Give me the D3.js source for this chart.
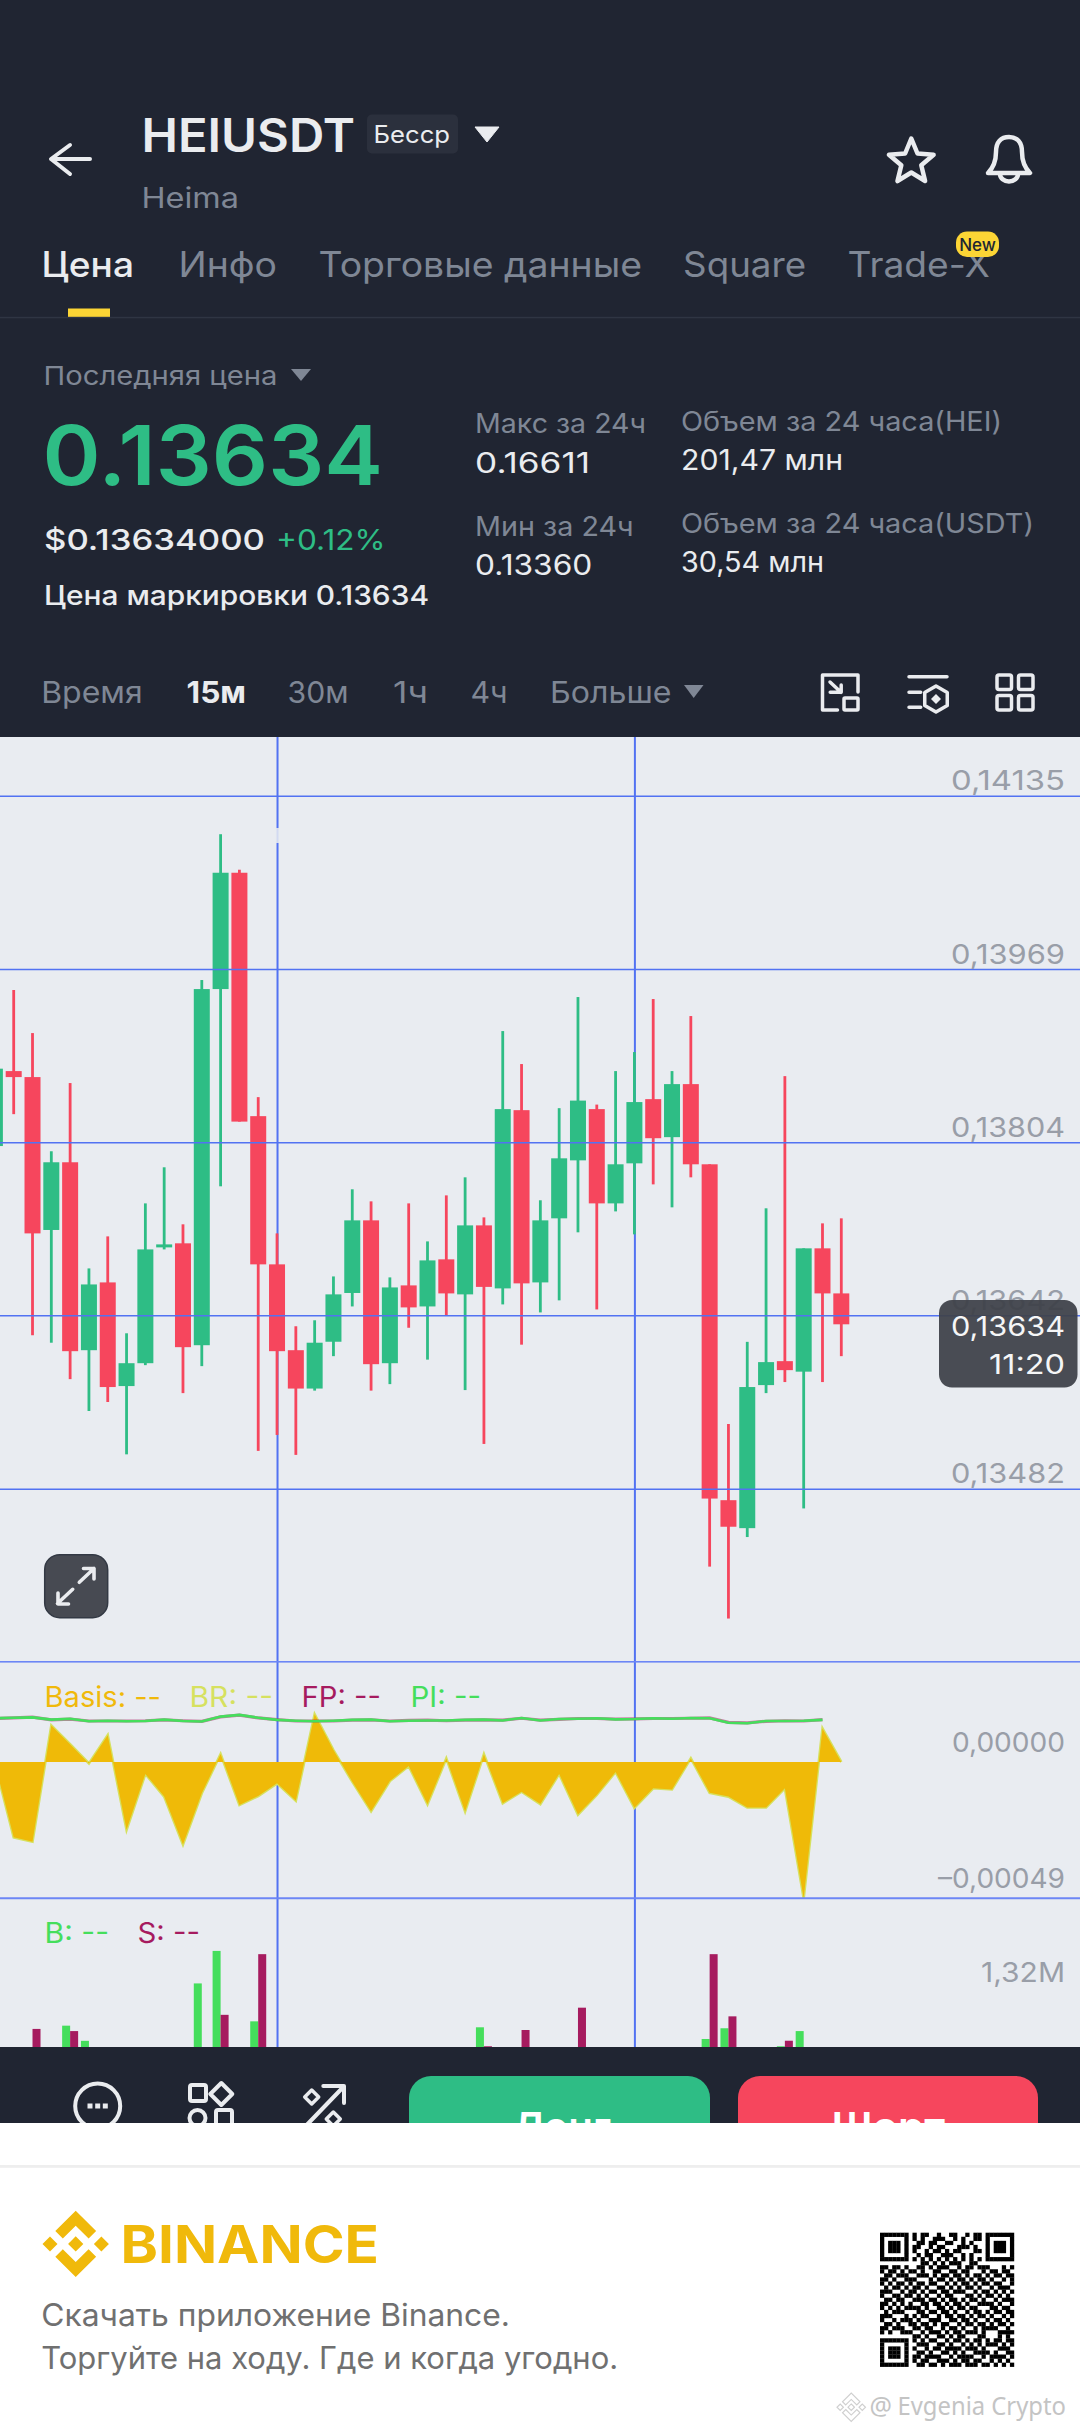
<!DOCTYPE html>
<html>
<head>
<meta charset="utf-8">
<title>HEIUSDT</title>
<script src="https://d3js.org/d3.v7.min.js"></script>
<style>
  html, body { margin: 0; padding: 0; background: #fff; }
  svg { display: block; }
  text { font-family: Inter, "Noto Sans", sans-serif; }
</style>
</head>
<body>
<div id="chart"></div>
<script>
// Candle data
const candleIndex = d3.range(46);
const opens = [0.138005,0.138718,0.138661,0.137219,0.137853,0.136098,0.136728,0.135767,0.135978,0.137056,0.137094,0.136144,0.139499,0.140612,0.138289,0.136897,0.136098,0.135744,0.136176,0.136629,0.137309,0.135978,0.136700,0.136503,0.136944,0.136616,0.137262,0.136672,0.138346,0.136728,0.137328,0.137871,0.138356,0.137468,0.137843,0.138451,0.138089,0.138594,0.137834,0.134714,0.134456,0.135776,0.135997,0.135900,0.137047,0.136625];
const highs = [0.138741,0.139490,0.139080,0.137956,0.138604,0.136859,0.137159,0.136254,0.137468,0.137806,0.137272,0.139585,0.140981,0.140641,0.138470,0.137187,0.136319,0.136374,0.136784,0.137600,0.137487,0.136775,0.137468,0.137112,0.137543,0.137712,0.137337,0.139099,0.138785,0.137497,0.138365,0.139423,0.138399,0.138718,0.138899,0.139404,0.138718,0.139242,0.137834,0.135417,0.136175,0.137422,0.138670,0.137047,0.137281,0.137328];
const lows = [0.138005,0.138308,0.136236,0.136167,0.135831,0.135537,0.135620,0.135137,0.135960,0.137037,0.135702,0.135951,0.137628,0.138237,0.135169,0.135316,0.135132,0.135725,0.136043,0.136503,0.135725,0.135785,0.136305,0.136011,0.136420,0.135730,0.135233,0.136522,0.136149,0.136447,0.136560,0.137197,0.136475,0.137393,0.137178,0.137646,0.137431,0.137712,0.134101,0.133622,0.134374,0.135702,0.135804,0.134638,0.135804,0.136043];
const closes = [0.138741,0.138661,0.137187,0.137853,0.136089,0.136709,0.135758,0.135978,0.137037,0.137084,0.136126,0.139499,0.140612,0.138237,0.136897,0.136089,0.135744,0.136167,0.136616,0.137309,0.135969,0.136681,0.136494,0.136934,0.136625,0.137262,0.136686,0.138356,0.136719,0.137309,0.137890,0.138437,0.137468,0.137834,0.138423,0.138079,0.138594,0.137834,0.134729,0.134469,0.135758,0.135988,0.135914,0.137047,0.136625,0.136337];
const priceTicks = [0.14135, 0.13969, 0.13804, 0.13642, 0.13482];
const lastPrice = "0,13634";
const countdown = "11:20";
const crosshairIndex = [15, 34];

// Basis panel, units of 1e-6
const basisValues = [-5,-272,-288,132,64,-5,97,-245,-43,-125,-298,-113,29,-155,-123,-77,-140,172,43,-71,-178,-69,-14,-153,13,-179,28,-149,-107,-152,-43,-190,-119,-36,-165,-95,-99,13,-111,-125,-164,-164,-95,-492,121,0];
const piValues = [158,160,161,153,156,147,149,147,148,153,148,146,164,170,160,152,149,147,149,152,153,147,149,150,150,152,153,150,159,150,155,156,158,154,155,158,156,159,158,142,140,148,148,149,152];
const fpValues = [157,159,162,152,155,148,148,148,149,152,149,147,163,169,159,153,148,148,148,151,152,148,150,151,149,151,152,151,158,151,154,157,157,155,156,157,157,158,159,143,141,147,149,148,153];
const basisTicks = [0, -0.00049];

// Volume panel, millions
const buyVolume = [0,0,0,0,1.00,0.86,0,0,0,0,0,1.39,1.69,0,1.04,0,0,0,0,0,0,0,0,0,0,0,0.985,0,0,0,0,0,0,0,0,0,0,0,0.877,0.976,0,0,0.81,0.95,0,0];
const sellVolume = [0,0,0.97,0,0.95,0,0,0,0,0,0,0,1.10,0,1.66,0,0,0,0,0,0,0,0,0,0,0,0.81,0,0.96,0,0,1.166,0,0,0,0,0,0,1.66,1.086,0,0,0.861,0,0,0];
const volumeTicks = [1.32];

// QR code modules
const qrRows = [
  "111111101011001001100101101111111",
  "100000101010011100101001101000001",
  "101110100110110011001010001011101",
  "101110101100101100011101001011101",
  "101110101001011010110001101011101",
  "100000100101100111001010001000001",
  "111111101010101010101010101111111",
  "000000000011010101110011000000000",
  "110110100110101110010110111000101",
  "101101011010011001101100010110110",
  "011011100111010110110101101011011",
  "110100111000101101011010110100101",
  "101011010110110010101101011011001",
  "010110101101001101010110100101110",
  "111001011010110110111001011010101",
  "100110110101001011000110101101010",
  "011011001110110101101011010010111",
  "110101010011011010110100111101001",
  "101010111101001101011011000110110",
  "010111000110110110100101101011011",
  "111000101011001011011010110100101",
  "100101110100111001101101001011010",
  "011010011011010110010110110101101",
  "110111001101100101101001011110010",
  "101001110010111010110111010001111",
  "000000001101001101011000110001010",
  "111111101010110010110101101011011",
  "100000100111001101001010101110101",
  "101110101001011011110111010001110",
  "101110100110100110101001111010011",
  "101110101101111001011110010111101",
  "100000101011001110101101100101010",
  "111111100110110101110111011010101"
];

const width = 1080, height = 2432;
const chartTop = 737, chartBottom = 2047, footerTop = 2123;

const dark = "#202532", light = "#EAECEF", muted = "#7F8795";
const green = "#2EBD85", red = "#F6465D", yellow = "#FCD535", gold = "#F0B90B";
const gridBlue = "#5272F2", gridPanel = "#6C86F5", axisText = "#999EA8";
const legendBuy = "#45DE5C", legendSell = "#A61B5F", legendBr = "#D6E15F";

const svg = d3.select("#chart").append("svg")
  .attr("width", width)
  .attr("height", height)
  .attr("viewBox", `0 0 ${width} ${height}`);

// Scales
const x = d3.scaleLinear().domain([1, 45]).range([13.7, 841.3]);
const yPrice = d3.scaleLinear().domain(priceTicks).range([795.7, 969, 1142.3, 1315.3, 1488.7]);
const yBasis = d3.scaleLinear().domain([0, -0.00049]).range([1762, 1897.7]);
const yVolume = d3.scaleLinear().domain([0, 1.32]).range([2134, 1991]);

// Helper for all the plain text on the page
function label(parent, px, py, str, size, color, opts = {}) {
  const anchor = opts.anchor || "start";
  // the fitted boxes were measured on the ink, so pull back the side bearing
  const bearing = anchor === "start" ? 1.5 : 0;
  const t = parent.append("text")
    .attr("x", px - bearing)
    .attr("y", py)
    .attr("font-size", size)
    .attr("fill", color)
    .attr("font-weight", opts.weight || 400)
    .attr("text-anchor", anchor)
    .text(str);
  if (opts.family) t.style("font-family", opts.family);
  if (opts.fit) t.attr("textLength", opts.fit + bearing).attr("lengthAdjust", "spacingAndGlyphs");
  return t;
}

// Tick labels are wide in the original, so each one gets its measured width
function styleTickText(axis, dy, fit) {
  axis.selectAll("text")
    .attr("x", 1065)
    .attr("dy", dy)
    .attr("font-size", 27.5)
    .attr("fill", axisText)
    .attr("text-anchor", "end")
    .attr("textLength", fit)
    .attr("lengthAdjust", "spacingAndGlyphs");
}

// Backgrounds
svg.append("rect").attr("width", width).attr("height", chartTop).attr("fill", dark);
svg.append("rect").attr("y", chartTop).attr("width", width).attr("height", chartBottom - chartTop).attr("fill", "#E9ECF1");

// === Header ===
const header = svg.append("g");
const iconStroke = (sel, w) => sel.attr("fill", "none").attr("stroke", light).attr("stroke-width", w)
  .attr("stroke-linecap", "round").attr("stroke-linejoin", "round");

header.append("path").attr("d", "M90 159H52M70 145L51 159L70 174").call(iconStroke, 4);
label(header, 143, 151.5, "HEIUSDT", 46, light, {weight: 600, fit: 212});
header.append("rect").attr("x", 367).attr("y", 114.5).attr("width", 91).attr("height", 39).attr("rx", 5).attr("fill", "#2B303D");
label(header, 375, 143, "Бесср", 24, light, {fit: 75});
header.append("path").attr("d", "M475 127H499L487 142Z").attr("fill", light).attr("stroke", light).attr("stroke-linejoin", "round");
label(header, 143, 207.5, "Heima", 28, muted, {fit: 96});

// star
const starPts = d3.range(10).map(i => {
  const r = i % 2 ? 10.5 : 23.5, a = i * Math.PI / 5;
  return [r * Math.sin(a), -r * Math.cos(a)];
});
header.append("path")
  .attr("transform", "translate(911.3,162)")
  .attr("d", d3.line().curve(d3.curveLinearClosed)(starPts))
  .call(iconStroke, 4.5);
// bell
header.append("path")
  .attr("d", "M988 173C994 167 996 160 996 152C996 142 1001 137 1009 137C1017 137 1022 142 1022 152C1022 160 1024 167 1030 173ZM1000 174A9 7.5 0 0 0 1018 174")
  .call(iconStroke, 4.5);

// tabs
const tabs = [["Цена", 43, 91], ["Инфо", 180, 97], ["Торговые данные", 320, 322], ["Square", 684.6, 121.5], ["Trade-X", 849, 141]];
tabs.forEach((d, i) => label(header, d[1], 276.5, d[0], 35, i === 0 ? light : muted, {weight: i === 0 ? 500 : 400, fit: d[2]}));
header.append("rect").attr("x", 956).attr("y", 231.5).attr("width", 43).attr("height", 25.5).attr("rx", 11).attr("fill", yellow);
label(header, 977.5, 250.5, "New", 17, "#202532", {anchor: "middle", weight: 500});
header.append("rect").attr("x", 68).attr("y", 308.5).attr("width", 42).attr("height", 8.5).attr("fill", yellow);
header.append("rect").attr("y", 316.8).attr("width", width).attr("height", 1.5).attr("fill", "#2F3543");

// price block
label(header, 45, 385, "Последняя цена", 26, muted, {fit: 232.5});
header.append("path").attr("d", "M291 369H311L301 381Z").attr("fill", muted);
label(header, 44, 484.5, "0.13634", 83, green, {weight: 600, fit: 339});
label(header, 45.5, 550, "$0.13634000", 29, light, {weight: 500, fit: 219.5});
label(header, 277.5, 550, "+0.12%", 29, green, {fit: 108});
label(header, 45.5, 605, "Цена маркировки 0.13634", 27, light, {weight: 500, fit: 383.5});

label(header, 476.6, 432.7, "Макс за 24ч", 27, muted, {fit: 169.4});
label(header, 476.6, 472.7, "0.16611", 28, light, {fit: 113.4});
label(header, 476.6, 535.8, "Мин за 24ч", 27, muted, {fit: 157});
label(header, 476.6, 575.4, "0.13360", 28, light, {fit: 115.7});
label(header, 682.5, 430.6, "Объем за 24 часа(HEI)", 27, muted, {fit: 319.5});
label(header, 682.5, 470, "201,47 млн", 28, light, {fit: 160.5});
label(header, 682.5, 533, "Объем за 24 часа(USDT)", 27, muted, {fit: 351.5});
label(header, 682.5, 572.4, "30,54 млн", 28, light, {fit: 141.5});

// interval row
const intervals = [["Время", 42.7, 100], ["15м", 188, 58], ["30м", 289, 59.5], ["1ч", 394.6, 33.4], ["4ч", 472, 35.6], ["Больше", 551.6, 120]];
intervals.forEach((d, i) => label(header, d[1], 703, d[0], 30, i === 1 ? light : muted, {weight: i === 1 ? 700 : 400, fit: d[2]}));
header.append("path").attr("d", "M684 685H703.5L693.7 698Z").attr("fill", muted);

// toolbar icons
header.append("path").attr("d", "M858 692V675H822.5V710H837.5M830 682L841 692.3M830.2 692.3H841.2V685").call(iconStroke, 3.5);
header.append("rect").attr("x", 844).attr("y", 698).attr("width", 14).attr("height", 12).attr("rx", 1).call(iconStroke, 3.5);
header.append("path").attr("d", "M909 676.7H947M909 692.3H920.7M909 707.3H920.7").call(iconStroke, 3.5);
const hexPts = d3.range(6).map(i => [13 * Math.sin(i * Math.PI / 3), -13 * Math.cos(i * Math.PI / 3)]);
header.append("path").attr("transform", "translate(936,699)").attr("d", d3.line().curve(d3.curveLinearClosed)(hexPts)).call(iconStroke, 3.5);
header.append("path").attr("d", "M936 694L941 699L936 704L931 699Z").attr("fill", light);
[[997, 675], [1018.5, 675], [997, 695.5], [1018.5, 695.5]].forEach(p => {
  header.append("rect").attr("x", p[0]).attr("y", p[1]).attr("width", 14.5).attr("height", 14.5).attr("rx", 2).call(iconStroke, 3.5);
});

// === Main candlestick chart ===
const fixed = (v, digits) => v.toFixed(digits).replace(".", ",").replace("-", "–");

const priceAxis = svg.append("g").attr("class", "price-axis")
  .call(d3.axisRight(yPrice).tickValues(priceTicks).tickSize(width).tickFormat(d => fixed(d, 5)));
priceAxis.select(".domain").remove();
priceAxis.selectAll("line").attr("stroke", gridBlue).attr("stroke-width", 1.6);

// vertical grid lines run through all panels
const vGrid = svg.append("g").attr("transform", `translate(0,${chartTop})`)
  .call(d3.axisBottom(x).tickValues(crosshairIndex).tickSize(chartBottom - chartTop).tickFormat(""));
vGrid.select(".domain").remove();
vGrid.selectAll("line").attr("stroke", gridBlue).attr("stroke-width", 2);

// the small break in the first vertical line
svg.append("rect").attr("x", 275.5).attr("y", 828).attr("width", 4).attr("height", 15).attr("fill", "#E9ECF1").attr("fill-opacity", 0.85);

// panel dividers
svg.append("rect").attr("y", 1661).attr("width", width).attr("height", 1.6).attr("fill", gridPanel);

const candles = svg.append("g").selectAll("g")
  .data(candleIndex)
  .enter()
  .append("g")
  .attr("fill", i => closes[i] >= opens[i] ? green : red);

candles.append("rect")
  .attr("x", i => x(i) - 1.4)
  .attr("width", 2.8)
  .attr("y", i => yPrice(highs[i]))
  .attr("height", i => yPrice(lows[i]) - yPrice(highs[i]));

candles.append("rect")
  .attr("x", i => x(i) - 8)
  .attr("width", 16)
  .attr("y", i => yPrice(Math.max(opens[i], closes[i])))
  .attr("height", i => Math.abs(yPrice(opens[i]) - yPrice(closes[i])));

styleTickText(priceAxis, -6, 114);
priceAxis.raise();

// last price pill
const pill = svg.append("g");
pill.append("rect").attr("x", 939).attr("y", 1300).attr("width", 138.5).attr("height", 87.5).attr("rx", 13)
  .attr("fill", "#3F4249").attr("fill-opacity", 0.94);
label(pill, 1065, 1336, lastPrice, 27.5, "#F5F6F7", {anchor: "end", fit: 114});
label(pill, 1065, 1374, countdown, 27.5, "#F5F6F7", {anchor: "end", fit: 76});

// expand button
const expand = svg.append("g");
expand.append("rect").attr("x", 44.7).attr("y", 1554.7).attr("width", 63).attr("height", 63).attr("rx", 15)
  .attr("fill", "#474A52").attr("stroke", "#333944").attr("stroke-width", 1.5);
expand.append("path").attr("d", "M57.5 1603.5L72.7 1589.3M58 1593V1604H68.5M79.3 1582.3L94 1568.5M83.5 1568.5H94V1579")
  .attr("fill", "none").attr("stroke", light).attr("stroke-width", 3.6).attr("stroke-linecap", "round").attr("stroke-linejoin", "round");

// === Basis panel ===
const basisMicro = d => yBasis(d * 1e-6);
const basisLine = d3.line().x((d, i) => x(i)).y(d => basisMicro(d));
const basisArea = d3.area().x((d, i) => x(i)).y0(yBasis(0)).y1(d => basisMicro(d));

svg.append("path").datum(basisValues).attr("d", basisLine).attr("fill", "none").attr("stroke", legendBr).attr("stroke-width", 2.6);
svg.append("path").datum(basisValues).attr("d", basisArea).attr("fill", "#EFBA08");
svg.append("path").datum(fpValues).attr("d", basisLine).attr("fill", "none").attr("stroke", legendSell).attr("stroke-opacity", 0.55).attr("stroke-width", 3.2);
svg.append("path").datum(piValues).attr("d", basisLine).attr("fill", "none").attr("stroke", legendBuy).attr("stroke-width", 2.6);

const basisAxis = svg.append("g")
  .call(d3.axisRight(yBasis).tickValues(basisTicks).tickSize(width).tickFormat(d => fixed(d, 5)));
basisAxis.select(".domain").remove();
basisAxis.selectAll("line").attr("stroke", d => d === 0 ? "none" : gridPanel).attr("stroke-width", 2);
styleTickText(basisAxis, -10.5, d => d === 0 ? 113 : 127);

label(svg, 46, 1706.7, "Basis: --", 28, gold, {fit: 115});
label(svg, 191, 1706.7, "BR: --", 28, legendBr, {fit: 82});
label(svg, 303, 1706.7, "FP: --", 28, legendSell, {fit: 78});
label(svg, 412, 1706.7, "PI: --", 28, legendBuy, {fit: 69});

// === Volume panel ===
const volumeClip = svg.append("defs").append("clipPath").attr("id", "vol-clip");
volumeClip.append("rect").attr("x", 0).attr("y", 1900).attr("width", width).attr("height", chartBottom - 1900);
const volume = svg.append("g").attr("clip-path", "url(#vol-clip)");

volume.selectAll(".buy")
  .data(candleIndex.filter(i => buyVolume[i] > 0))
  .enter()
  .append("rect")
  .attr("class", "buy")
  .attr("x", i => x(i) - 8)
  .attr("width", 8)
  .attr("y", i => yVolume(buyVolume[i]))
  .attr("height", i => yVolume(0) - yVolume(buyVolume[i]))
  .attr("fill", legendBuy);

volume.selectAll(".sell")
  .data(candleIndex.filter(i => sellVolume[i] > 0))
  .enter()
  .append("rect")
  .attr("class", "sell")
  .attr("x", i => x(i))
  .attr("width", 8)
  .attr("y", i => yVolume(sellVolume[i]))
  .attr("height", i => yVolume(0) - yVolume(sellVolume[i]))
  .attr("fill", legendSell);

const volumeAxis = svg.append("g")
  .call(d3.axisRight(yVolume).tickValues(volumeTicks).tickSize(0).tickFormat(d => fixed(d, 2) + "M"));
volumeAxis.select(".domain").remove();
styleTickText(volumeAxis, -10, 84);

label(svg, 46, 1942.7, "B: --", 28, legendBuy, {fit: 63});
label(svg, 139, 1942.7, "S: --", 28, legendSell, {fit: 61});

// === Bottom bar ===
svg.append("rect").attr("y", chartBottom).attr("width", width).attr("height", footerTop - chartBottom).attr("fill", dark);
const bar = svg.append("g");
bar.append("circle").attr("cx", 97.7).attr("cy", 2106).attr("r", 22.5).call(iconStroke, 4);
[90, 97.7, 105.3].forEach(cx => bar.append("rect").attr("x", cx - 2.5).attr("y", 2103.5).attr("width", 5).attr("height", 5).attr("fill", light));
bar.append("rect").attr("x", 190).attr("y", 2085).attr("width", 16).attr("height", 16).attr("rx", 2).call(iconStroke, 4);
bar.append("path").attr("d", "M221.3 2083L232.3 2094L221.3 2105L210.3 2094Z").call(iconStroke, 4);
bar.append("circle").attr("cx", 197.5).attr("cy", 2118).attr("r", 8).call(iconStroke, 4);
bar.append("rect").attr("x", 216).attr("y", 2110).attr("width", 16).attr("height", 16).attr("rx", 2).call(iconStroke, 4);
bar.append("path").attr("d", "M306.7 2125L343.3 2087M323.3 2086H344V2103").call(iconStroke, 4);
bar.append("path").attr("d", "M311.7 2090L318.7 2097L311.7 2104L304.7 2097Z").call(iconStroke, 3.5);
bar.append("path").attr("d", "M333.3 2112L340.3 2119L333.3 2126L326.3 2119Z").call(iconStroke, 3.5);

bar.append("rect").attr("x", 409).attr("y", 2076).attr("width", 301).attr("height", 90).attr("rx", 22).attr("fill", green);
bar.append("rect").attr("x", 738).attr("y", 2076).attr("width", 300).attr("height", 90).attr("rx", 22).attr("fill", red);
label(bar, 515, 2141, "Лонг", 40, "#fff", {weight: 600, fit: 96});
label(bar, 833, 2141, "Шорт", 40, "#fff", {weight: 600, fit: 112});

// === Footer ===
svg.append("rect").attr("y", footerTop).attr("width", width).attr("height", height - footerTop).attr("fill", "#fff");
svg.append("rect").attr("y", 2165).attr("width", width).attr("height", 2.8).attr("fill", "#EEEEEE");

const logoPaths = [
  "m38.73 53.2 24.59-24.58 24.6 24.6 14.3-14.31L63.32 0 24.43 38.9z",
  "M0 63.31l14.3-14.31 14.31 14.31-14.31 14.3z",
  "M38.73 73.41 63.32 98l24.6-24.6 14.31 14.29-38.9 38.91-38.9-38.88z",
  "M98 63.31l14.3-14.31 14.31 14.31-14.31 14.3z",
  "m77.83 63.3-14.51-14.52-10.73 10.73-1.24 1.23-2.54 2.54 14.51 14.5 14.51-14.47z"
];
const logo = svg.append("g").attr("transform", "translate(42.5,2210.7) scale(0.5245)");
logoPaths.forEach(d => logo.append("path").attr("d", d).attr("fill", gold));
label(svg, 122, 2262.7, "BINANCE", 52, gold, {weight: 700, fit: 257});
label(svg, 42.7, 2326, "Скачать приложение Binance.", 31, "#707070", {fit: 467.3});
label(svg, 42.7, 2369, "Торгуйте на ходу. Где и когда угодно.", 31, "#707070", {fit: 575.5});

// QR code
const qrCell = 134 / qrRows.length;
const qr = svg.append("g").attr("transform", "translate(880,2232.7)");
qrRows.forEach((row, r) => {
  row.split("").forEach((c, col) => {
    if (c === "1") qr.append("rect").attr("x", col * qrCell).attr("y", r * qrCell).attr("width", qrCell + 0.2).attr("height", qrCell + 0.2).attr("fill", "#000");
  });
});

// watermark
const mark = svg.append("g").attr("transform", "translate(837,2393) scale(0.225)");
logoPaths.forEach(d => mark.append("path").attr("d", d).attr("fill", "none").attr("stroke", "#cfcfcf").attr("stroke-width", 5));
label(svg, 871, 2415, "@", 25, "#c4c4c4", {family: "Noto Sans"});
label(svg, 899, 2415, "Evgenia Crypto", 25, "#c4c4c4", {family: "Noto Sans", fit: 167});
</script>
</body>
</html>
